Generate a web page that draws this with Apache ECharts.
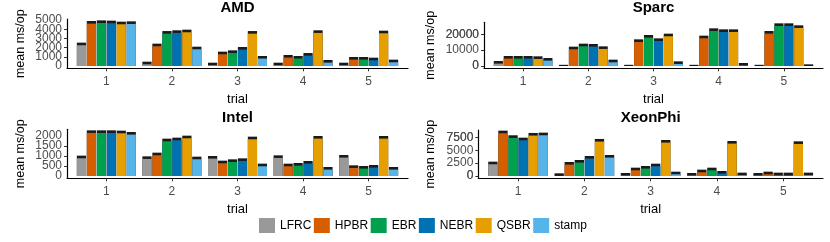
<!DOCTYPE html>
<html><head><meta charset="utf-8">
<script src="https://cdn.jsdelivr.net/npm/echarts@6/dist/echarts.min.js"></script>
<style>html,body{margin:0;padding:0;background:#fff}#c{width:830px;height:242px}</style>
</head><body><div id="c"></div>
<script>
const trials = [1, 2, 3, 4, 5];
const methods = ['LFRC', 'HPBR', 'EBR', 'NEBR', 'QSBR', 'stamp'];
const colors = ['#999999', '#D55E00', '#00A04C', '#0072B2', '#E69F00', '#56B4E9'];
const panelNames = ['AMD', 'Sparc', 'Intel', 'XeonPhi'];

const amdLFRC  = [2540, 470, 360, 360, 360];
const amdHPBR  = [4890, 2430, 1560, 1200, 980];
const amdEBR   = [4960, 3800, 1700, 1090, 980];
const amdNEBR  = [4930, 3880, 2065, 1410, 905];
const amdQSBR  = [4820, 3950, 3800, 3880, 3840];
const amdStamp = [4855, 2100, 1090, 650, 690];

const sparcLFRC  = [3150, 750, 750, 750, 750];
const sparcHPBR  = [6310, 12200, 16820, 19140, 22080];
const sparcEBR   = [6310, 14090, 19560, 23760, 26920];
const sparcNEBR  = [6310, 13880, 17450, 23130, 26920];
const sparcQSBR  = [6100, 12400, 20400, 23130, 25660];
const sparcStamp = [5050, 4000, 2940, 1890, 1050];

const intelLFRC  = [1017, 983, 1000, 1033, 1050];
const intelHPBR  = [2283, 1167, 767, 617, 533];
const intelEBR   = [2283, 1867, 833, 650, 500];
const intelNEBR  = [2283, 1917, 883, 750, 550];
const intelQSBR  = [2267, 2017, 1967, 2000, 2000];
const intelStamp = [2200, 967, 617, 450, 450];

const xeonLFRC  = [2780, 520, 580, 580, 580];
const xeonHPBR  = [8790, 2710, 1615, 1230, 840];
const xeonEBR   = [7890, 3100, 1940, 1615, 650];
const xeonNEBR  = [7430, 3880, 2390, 970, 650];
const xeonQSBR  = [8340, 7180, 6980, 6780, 6720];
const xeonStamp = [8400, 4070, 840, 650, 650];

const amdTicks   = [0, 1000, 2000, 3000, 4000, 5000];
const sparcTicks = [0, 10000, 20000];
const intelTicks = [0, 500, 1000, 1500, 2000];
const xeonTicks  = [0, 2500, 5000, 7500];

const panelData = [
  [amdLFRC, amdHPBR, amdEBR, amdNEBR, amdQSBR, amdStamp],
  [sparcLFRC, sparcHPBR, sparcEBR, sparcNEBR, sparcQSBR, sparcStamp],
  [intelLFRC, intelHPBR, intelEBR, intelNEBR, intelQSBR, intelStamp],
  [xeonLFRC, xeonHPBR, xeonEBR, xeonNEBR, xeonQSBR, xeonStamp]
];
const panelTicks = [amdTicks, sparcTicks, intelTicks, xeonTicks];

// layout (pixels) and axis ranges
const layout = [
  {left: 67,  top: 19,   right: 408, bottom: 68.3,  ymin: -250,  ymax: 5110,  titleY: 0},
  {left: 484, top: 22.3, right: 823, bottom: 68.3,  ymin: -1450, ymax: 27570, titleY: 0},
  {left: 67,  top: 129.3,right: 408, bottom: 178.3, ymin: -115,  ymax: 2335,  titleY: 110},
  {left: 478.3,top: 130, right: 823, bottom: 178.3, ymin: -445,  ymax: 8915,  titleY: 110}
];
const capPx = 2.6;
const FONT = '"Liberation Sans", Arial, Helvetica, sans-serif';
const labelStyle = {margin: 5, fontFamily: FONT, fontSize: 12, color: '#4d4d4d', formatter: v => String(v)};

const grid = [], xAxis = [], yAxis = [], series = [], title = [];
layout.forEach((L, p) => {
  grid.push({left: L.left, top: L.top, width: L.right - L.left, height: L.bottom - L.top, containLabel: false});
  title.push({text: panelNames[p], left: (L.left + L.right) / 2, top: L.titleY, textAlign: 'center', padding: 0,
    textStyle: {fontFamily: FONT, fontSize: 15, fontWeight: 'bold', color: '#000'}});
  const xBase = {type: 'value', gridIndex: p, min: 0.4, max: 5.6, splitLine: {show: false}};
  xAxis.push(Object.assign({}, xBase, {
    name: 'trial', nameLocation: 'middle', nameGap: 25,
    nameTextStyle: {fontFamily: FONT, fontSize: 13, color: '#000'},
    axisLine: {onZero: false, lineStyle: {color: '#000', width: 1.2}},
    axisTick: {length: 3, customValues: trials, lineStyle: {color: '#333'}},
    axisLabel: {customValues: trials, margin: 7, fontFamily: FONT, fontSize: 12, color: '#4d4d4d'}
  }));
  xAxis.push(Object.assign({}, xBase, {show: false}));
  const nameGap = L.left - (p % 2 === 0 ? 20 : 430) - 7;
  const ticks = panelTicks[p];
  yAxis.push({type: 'value', gridIndex: p, min: L.ymin, max: L.ymax, position: 'left',
    name: 'mean ms/op', nameLocation: 'middle', nameGap: nameGap,
    nameTextStyle: {fontFamily: FONT, fontSize: 12.5, color: '#000'},
    splitLine: {show: false},
    axisLine: {onZero: false, lineStyle: {color: '#000', width: 1.2}},
    axisTick: {length: 3, customValues: ticks, lineStyle: {color: '#333'}},
    axisLabel: Object.assign({customValues: ticks}, labelStyle)
  });
  // second label axis carrying the end labels (first and last tick)
  yAxis.push({type: 'value', gridIndex: p, min: L.ymin, max: L.ymax, position: 'left', offset: 0,
    splitLine: {show: false}, axisLine: {show: false}, axisTick: {show: false},
    axisLabel: Object.assign({customValues: [ticks[0], ticks[ticks.length - 1]]}, labelStyle)
  });
  const capUnits = capPx * (L.ymax - L.ymin) / (L.bottom - L.top);
  methods.forEach((m, k) => {
    const vals = panelData[p][k];
    series.push({type: 'bar', name: m + ' err', xAxisIndex: 2 * p, yAxisIndex: 2 * p,
      barCategoryGap: '10%', barGap: '8%', z: 2, silent: true,
      itemStyle: {color: '#1a1a1a'},
      data: trials.map((t, i) => [t, vals[i]])});
    series.push({type: 'bar', name: m, xAxisIndex: 2 * p + 1, yAxisIndex: 2 * p,
      barCategoryGap: '10%', barGap: '8%', z: 3,
      itemStyle: {color: colors[k]},
      data: trials.map((t, i) => [t, Math.max(vals[i] - capUnits, 0)])});
  });
});

const chart = echarts.init(document.getElementById('c'), null, {renderer: 'canvas'});
chart.setOption({
  animation: false,
  backgroundColor: '#fff',
  title, grid, xAxis, yAxis, series,
  legend: {data: methods, left: 259, top: 218, padding: 0, icon: 'rect', itemWidth: 16, itemHeight: 15, itemGap: 2.5,
    textStyle: {fontFamily: FONT, fontSize: 12, color: '#000'}}
});
</script></body></html>
